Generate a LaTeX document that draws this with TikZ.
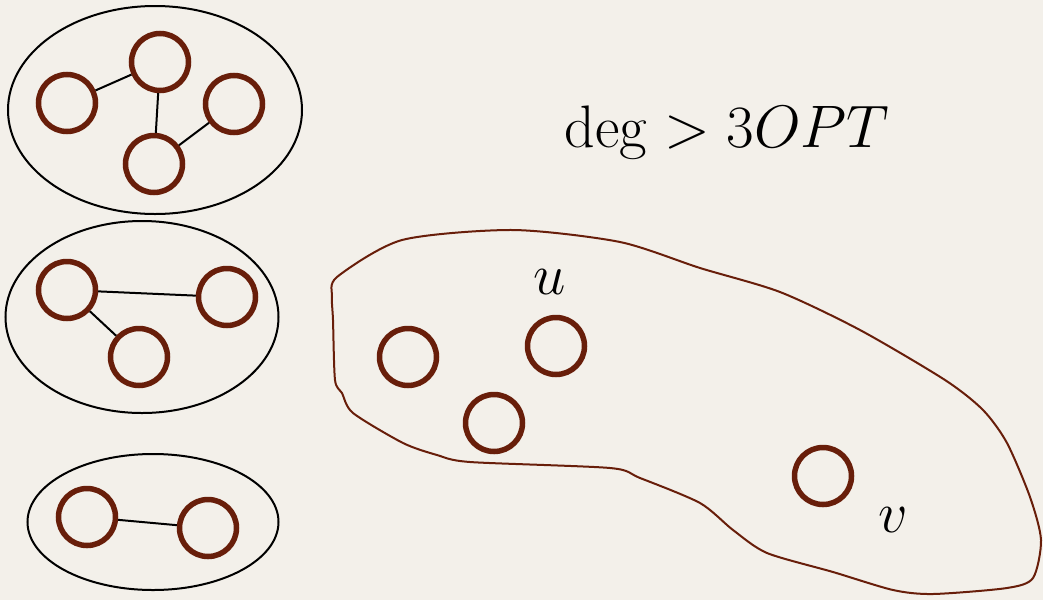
\RequirePackage{fix-cm}
\documentclass[tikz,border=0pt]{standalone}
\usepackage{amsmath}
\usepackage{tikz}
\usetikzlibrary{positioning, shapes.geometric}

\definecolor{paper}{RGB}{243,240,234}
\definecolor{rust}{RGB}{104,30,10}

\begin{document}
\begin{tikzpicture}[
    x=1pt, y=-1pt,
    vtx/.style = {circle, draw=rust, line width=5.5pt, minimum size=57pt, inner sep=0pt},
    grp/.style = {ellipse, draw, line width=2pt, inner sep=0pt},
    edge/.style = {line width=2pt},
    lbl/.style = {font=\fontsize{58}{60}\selectfont}
]
    \fill[paper] (0,0) rectangle (1043,600);
    \useasboundingbox (0,0) rectangle (1043,600);

    % groups on the left
    \node[grp, minimum width=294pt, minimum height=208pt] (G1) at (155,110) {};
    \node[grp, minimum width=273pt, minimum height=192pt] (G2) at (142,317) {};
    \node[grp, minimum width=251pt, minimum height=136pt] (G3) at (153,522) {};

    \node[vtx] (A1) at (67,103) {};
    \node[vtx] (A2) at (160,62) {};
    \node[vtx] (A3) at (234,104) {};
    \node[vtx] (A4) at (154,164) {};

    \node[vtx] (B1) at (67,290) {};
    \node[vtx] (B2) at (227,297) {};
    \node[vtx] (B3) at (139,357) {};

    \node[vtx] (C1) at (87,517) {};
    \node[vtx] (C2) at (208,528) {};

    \draw[edge] (A1) -- (A2);
    \draw[edge] (A2) -- (A4);
    \draw[edge] (A4) -- (A3);
    \draw[edge] (B1) -- (B2);
    \draw[edge] (B1) -- (B3);
    \draw[edge] (C1) -- (C2);

    % the big region
    \draw[rust, line width=2pt] plot[smooth cycle, tension=0.45] coordinates {
        (337,277) (402,240) (513,230) (620,242) (700,268) (780,292)
        (860,330) (945,380) (983,410) (1007,443) (1030,497) (1041,540)
        (1033,578) (1007,588) (933,594) (893,590) (833,572) (767,553)
        (733,530) (700,503) (640,478) (610,468) (470,462) (437,455)
        (403,443) (353,413) (342,393) (335,380) (333,320) (332,297)};

    \node[vtx] (D1) at (408,357) {};
    \node[vtx] (U) at (556,346) {};
    \node[vtx] (D2) at (494,423) {};
    \node[vtx] (V) at (823,476) {};

    \node[lbl] (Ulbl) at (550,282) {$u$};
    \node[lbl] (Vlbl) at (893,520) {$v$};

    \node[font=\fontsize{60}{62}\selectfont] (deg) at (727,132) {$\deg > 3OPT$};
\end{tikzpicture}
\end{document}
